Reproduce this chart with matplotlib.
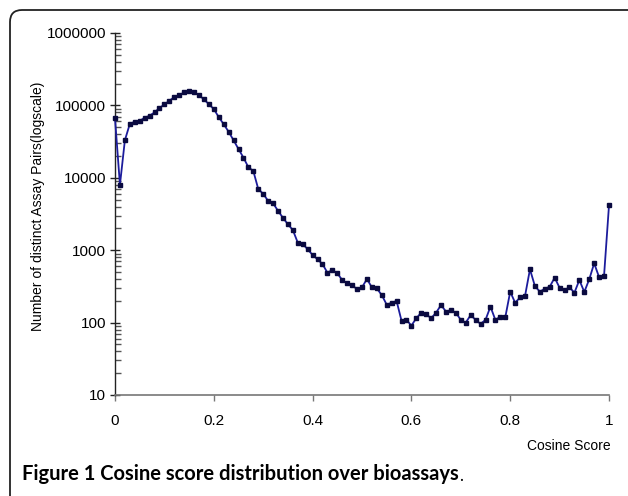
import numpy as np
import matplotlib
matplotlib.use("Agg")
import matplotlib.pyplot as plt
from matplotlib.path import Path
from matplotlib.patches import PathPatch
from matplotlib.ticker import LogLocator, FixedLocator

###############################################################################
# 数据
###############################################################################
cosine_score = [round(i * 0.01, 2) for i in range(101)]
pair_counts = [
    66000, 8000, 33000, 55500, 59600, 61000, 67600, 72000, 80000, 92000,      # 0.00-0.09
    103000, 116000, 130000, 139000, 151000, 157000, 151000, 139000, 121000, 104000,  # 0.10-0.19
    89000, 69000, 55000, 43300, 33000, 25000, 19000, 14000, 12400, 7000,      # 0.20-0.29
    6000, 4800, 4450, 3500, 2800, 2280, 1900, 1270, 1220, 1030,               # 0.30-0.39
    859, 748, 644, 489, 533, 480, 387, 348, 330, 288,                         # 0.40-0.49
    307, 400, 307, 297, 240, 177, 188, 199, 106, 109,                         # 0.50-0.59
    91, 115, 137, 130, 115, 137, 175, 142, 149, 137,                          # 0.60-0.69
    109, 100, 127, 109, 96, 109, 166, 109, 121, 118,                          # 0.70-0.79
    267, 188, 223, 233, 545, 320, 267, 294, 313, 417,                         # 0.80-0.89
    303, 282, 307, 259, 387, 265, 396, 659, 423, 445,                         # 0.90-0.99
    4170,                                                                     # 1.00
]
x_ticks = [0, 0.2, 0.4, 0.6, 0.8, 1]
x_ticklabels = ["0", "0.2", "0.4", "0.6", "0.8", "1"]
y_ticks = [10, 100, 1000, 10000, 100000, 1000000]
y_ticklabels = ["10", "100", "1000", "10000", "100000", "1000000"]

###############################################################################
# 绘图
###############################################################################
plt.rcParams["font.family"] = ["Liberation Sans", "DejaVu Sans"]

fig = plt.figure(figsize=(6.28, 4.96), dpi=100)
ax = fig.add_axes([115 / 628, 1 - 395 / 496, 494 / 628, 362 / 496])

ax.plot(cosine_score, pair_counts, color="#1c1c9c", lw=1.3,
        marker="s", markersize=3.0, markerfacecolor="#0a0a40",
        markeredgecolor="#0a0a40", clip_on=False, zorder=3)

ax.set_yscale("log")
ax.set_ylim(10, 1000000)
ax.set_xlim(0, 1)
ax.yaxis.set_major_locator(FixedLocator(y_ticks))
ax.set_yticklabels(y_ticklabels)
ax.yaxis.set_minor_locator(LogLocator(base=10, subs=np.arange(2, 10)))
ax.yaxis.set_minor_formatter(plt.NullFormatter())
ax.set_xticks(x_ticks)
ax.set_xticklabels(x_ticklabels)

for s in ["top", "right"]:
    ax.spines[s].set_visible(False)
ax.spines["left"].set_color("#222222")
ax.spines["bottom"].set_color("#777777")
ax.spines["left"].set_linewidth(1.0)
ax.spines["bottom"].set_linewidth(1.2)

ax.tick_params(axis="y", which="major", direction="inout", length=7, width=1,
               labelsize=11, pad=3, color="#222222")
ax.tick_params(axis="y", which="minor", direction="in", length=4, width=1,
               color="#555555")
ax.tick_params(axis="x", which="major", direction="out", length=4, width=1,
               labelsize=11, pad=10, color="#777777")

ax.set_ylabel("Number of distinct Assay Pairs(logscale)", fontsize=10)
ax.yaxis.set_label_coords(-0.142, 0.52)
fig.text(611 / 628, 1 - 446 / 496, "Cosine Score", fontsize=10,
         ha="right", va="center")

# 图题：粗体正文 + 常规句号
cap = fig.text(22 / 628, 1 - 474 / 496, "Figure 1 Cosine score distribution over bioassays",
               fontsize=14.5, fontweight="bold", family=["Lato", "DejaVu Sans"],
               ha="left", va="center")
ax.annotate(".", xy=(1, 0), xycoords=cap, xytext=(0, 0), textcoords="offset points",
            fontsize=12, family=["Lato", "DejaVu Sans"], ha="left", va="bottom",
            annotation_clip=False)

# 外框（左上圆角）
W, H = 628.0, 496.0
r = 12.0
x0, y0 = 10.0, 10.0
verts = [
    (W + 5, y0), (x0 + r, y0), (x0, y0), (x0, y0 + r), (x0, H + 5),
]
codes = [Path.MOVETO, Path.LINETO, Path.CURVE3, Path.CURVE3, Path.LINETO]
verts_fig = [(vx / W, 1 - vy / H) for vx, vy in verts]
frame = PathPatch(Path(verts_fig, codes), transform=fig.transFigure,
                  fill=False, lw=1.3, edgecolor="#222222")
fig.patches.append(frame)

fig.savefig("out.png", dpi=100)
